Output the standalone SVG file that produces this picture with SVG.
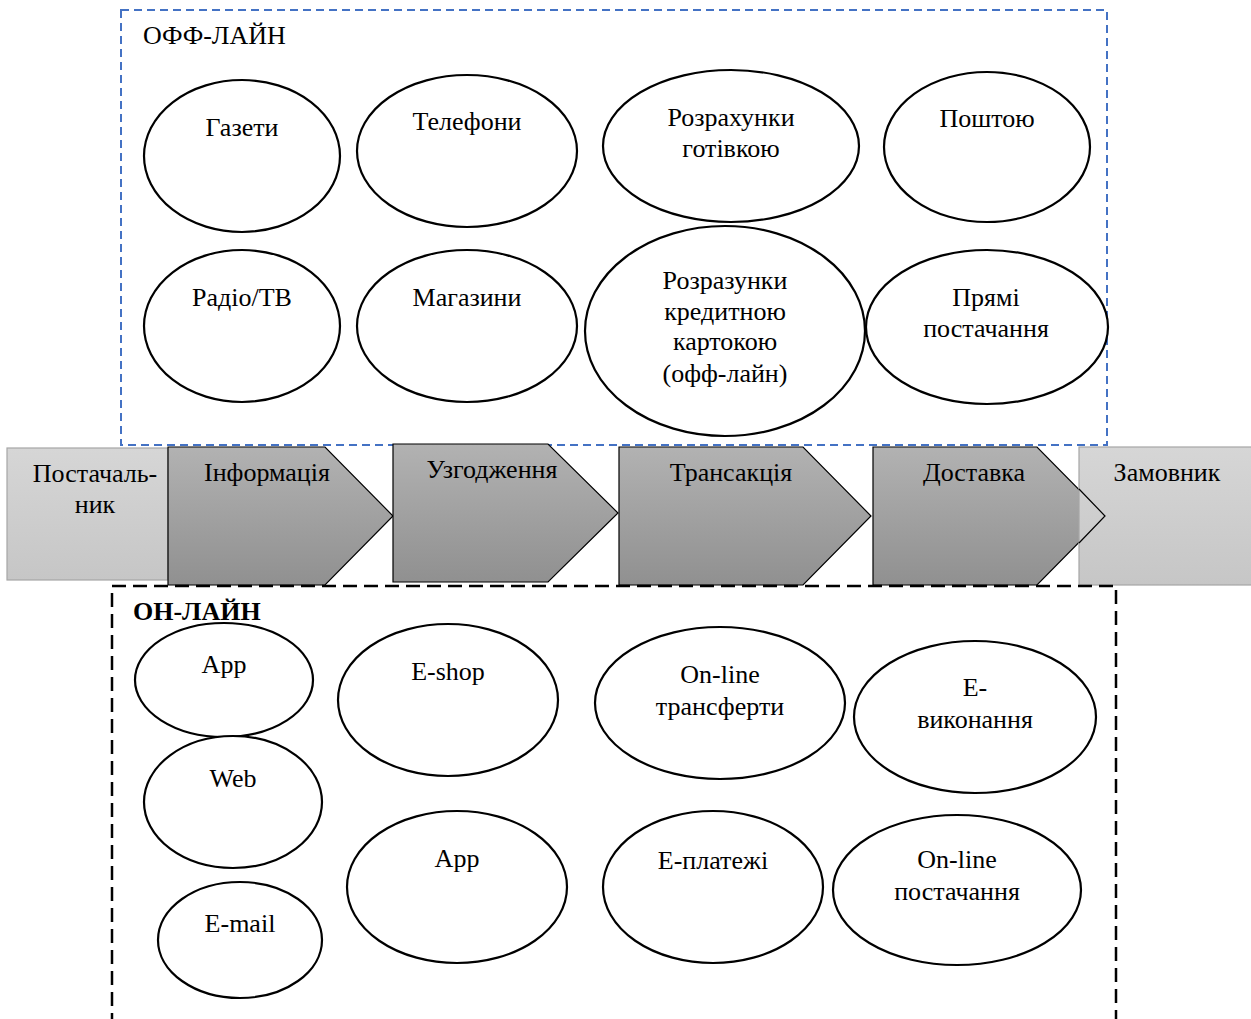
<svg xmlns="http://www.w3.org/2000/svg" width="1251" height="1019" viewBox="0 0 1251 1019">
<style>
  .t { font-family: "Liberation Serif", "Times New Roman", serif; font-size: 26px; fill: #000; text-anchor: middle; }
  .lbl { font-family: "Liberation Serif", "Times New Roman", serif; font-size: 26px; fill: #000; }
  .e { fill: #fff; stroke: #000; stroke-width: 2.2; }
  .chev { fill: url(#gDark); stroke: #000; stroke-width: 1.2; }
  .end { fill: url(#gLight); stroke: #a6a6a6; stroke-width: 1.2; }
</style>
<defs>
  <linearGradient id="gDark" x1="0" y1="0" x2="0" y2="1">
    <stop offset="0" stop-color="#b2b2b2"/>
    <stop offset="1" stop-color="#909090"/>
  </linearGradient>
  <linearGradient id="gLight" x1="0" y1="0" x2="0" y2="1">
    <stop offset="0" stop-color="#d6d6d6"/>
    <stop offset="1" stop-color="#c6c6c6"/>
  </linearGradient>
</defs>
<rect width="1251" height="1019" fill="#fff"/>

<g id="offline-frame">
  <rect x="121" y="10" width="986" height="435" fill="none" stroke="#4472c4" stroke-width="2" stroke-dasharray="8,5"/>
  <text class="lbl" x="143" y="44">ОФФ-ЛАЙН</text>
</g>

<g id="n-gazety"><ellipse class="e" cx="242" cy="156" rx="98" ry="76"/><text class="t" x="242" y="136">Газети</text></g>
<g id="n-telefony"><ellipse class="e" cx="467" cy="151" rx="110" ry="76"/><text class="t" x="467" y="130">Телефони</text></g>
<g id="n-gotivka"><ellipse class="e" cx="731" cy="146" rx="128" ry="76"/><text class="t" x="731" y="126">Розрахунки</text><text class="t" x="731" y="157">готівкою</text></g>
<g id="n-poshta"><ellipse class="e" cx="987" cy="147" rx="103" ry="75"/><text class="t" x="987" y="127">Поштою</text></g>
<g id="n-radio"><ellipse class="e" cx="242" cy="326" rx="98" ry="76"/><text class="t" x="242" y="306">Радіо/ТВ</text></g>
<g id="n-magazyny"><ellipse class="e" cx="467" cy="326" rx="110" ry="76"/><text class="t" x="467" y="306">Магазини</text></g>
<g id="n-kredyt"><ellipse class="e" cx="725" cy="331" rx="140" ry="105"/><text class="t" x="725" y="289">Розразунки</text><text class="t" x="725" y="320">кредитною</text><text class="t" x="725" y="350">картокою</text><text class="t" x="725" y="382">(офф-лайн)</text></g>
<g id="n-pryami"><ellipse class="e" cx="987" cy="327" rx="121" ry="77"/><text class="t" x="986" y="306">Прямі</text><text class="t" x="986" y="337">постачання</text></g>

<g id="band">
  <g id="n-postachalnyk"><rect class="end" x="7" y="448" width="161" height="132"/><text class="t" x="95" y="482">Постачаль-</text><text class="t" x="95" y="513">ник</text></g>
  <g id="n-informatsiya"><polygon class="chev" points="168,447 325,447 393,516 325,585 168,585"/><text class="t" x="267" y="481">Інформація</text></g>
  <g id="n-uzgodzhennya"><polygon class="chev" points="393,444 548,444 618,513 548,582 393,582"/><text class="t" x="492" y="478">Узгодження</text></g>
  <g id="n-tranzaktsiya"><polygon class="chev" points="619,447 803,447 871,516 803,585 619,585"/><text class="t" x="731" y="481">Трансакція</text></g>
  <g id="n-dostavka"><polygon class="chev" points="873,447 1037,447 1105,516 1037,585 873,585"/><text class="t" x="974" y="481">Доставка</text></g>
  <g id="n-zamovnyk"><rect class="end" x="1079" y="447" width="173" height="138"/><polyline points="1079,489 1105,516 1079,543" fill="none" stroke="#000" stroke-width="1.2"/><text class="t" x="1167" y="481">Замовник</text></g>
</g>

<g id="online-frame">
  <rect x="112" y="586" width="1004" height="445" fill="none" stroke="#000" stroke-width="2.5" stroke-dasharray="14,7"/>
  <text class="lbl" x="133" y="620" font-weight="bold">ОН-ЛАЙН</text>
</g>

<g id="n-app1"><ellipse class="e" cx="224" cy="680" rx="89" ry="57"/><text class="t" x="224" y="673">App</text></g>
<g id="n-web"><ellipse class="e" cx="233" cy="802" rx="89" ry="66"/><text class="t" x="233" y="787">Web</text></g>
<g id="n-email"><ellipse class="e" cx="240" cy="940" rx="82" ry="58"/><text class="t" x="240" y="932">E-mail</text></g>
<g id="n-eshop"><ellipse class="e" cx="448" cy="700" rx="110" ry="76"/><text class="t" x="448" y="680">E-shop</text></g>
<g id="n-app2"><ellipse class="e" cx="457" cy="887" rx="110" ry="76"/><text class="t" x="457" y="867">App</text></g>
<g id="n-transfery"><ellipse class="e" cx="720" cy="703" rx="125" ry="76"/><text class="t" x="720" y="683">On-line</text><text class="t" x="720" y="715">трансферти</text></g>
<g id="n-vykonannya"><ellipse class="e" cx="975" cy="717" rx="121" ry="76"/><text class="t" x="975" y="696">E-</text><text class="t" x="975" y="728">виконання</text></g>
<g id="n-platezhi"><ellipse class="e" cx="713" cy="887" rx="110" ry="76"/><text class="t" x="713" y="869">E-платежі</text></g>
<g id="n-postachannya"><ellipse class="e" cx="957" cy="890" rx="124" ry="75"/><text class="t" x="957" y="868">On-line</text><text class="t" x="957" y="900">постачання</text></g>

<g id="connectors"></g>
</svg>
